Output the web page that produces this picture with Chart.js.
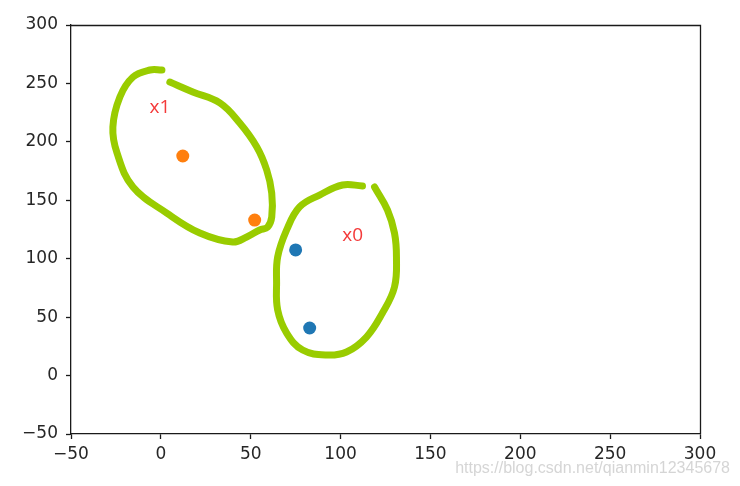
<!DOCTYPE html>
<html>
<head>
<meta charset="utf-8">
<script src="https://cdn.jsdelivr.net/npm/chart.js@4/dist/chart.umd.min.js"></script>
<style>
  body { margin: 0; background: #fff; }
  #wrap { width: 740px; height: 486px; }
</style>
</head>
<body>
<div id="wrap"><canvas id="scatterChart" width="740" height="486"></canvas></div>
<script>
// tick values for both axes
const tickValues = [-50, 0, 50, 100, 150, 200, 250, 300];

// cluster points
const x0Points = [{ x: 75, y: 107.5 }, { x: 82.8, y: 40.7 }];
const x1Points = [{ x: 12.2, y: 187.9 }, { x: 52.2, y: 133.1 }];

// hand drawn loops
const loopX1 = [
  { x: 0.6, y: 261.5 }, { x: -6.1, y: 261.5 }, { x: -15.5, y: 255.5 }, { x: -22.8, y: 238.4 },
  { x: -26.7, y: 212.7 }, { x: -24.4, y: 190.5 }, { x: -15.5, y: 161.4 }, { x: 3.3, y: 139.1 },
  { x: 21.7, y: 122 }, { x: 40, y: 114.3 }, { x: 47.8, y: 118.6 }, { x: 55, y: 124.6 },
  { x: 59.4, y: 127.1 }, { x: 61.7, y: 135.7 }, { x: 61.7, y: 156.2 }, { x: 58.9, y: 175.9 },
  { x: 53.4, y: 195.6 }, { x: 43.9, y: 216.1 }, { x: 32.8, y: 233.3 }, { x: 17.8, y: 242.7 },
  { x: 5, y: 251.2 }
];
const loopX0 = [
  { x: 112.2, y: 162.2 }, { x: 101.1, y: 163.1 }, { x: 88.3, y: 154.5 }, { x: 77.2, y: 144.3 },
  { x: 70, y: 124.6 }, { x: 65, y: 101.5 }, { x: 64.4, y: 79.2 }, { x: 65, y: 56.1 },
  { x: 70, y: 36.4 }, { x: 78.9, y: 21.9 }, { x: 92.2, y: 17.6 }, { x: 103.3, y: 20.2 },
  { x: 114.4, y: 33 }, { x: 123.3, y: 53.6 }, { x: 130, y: 75.8 }, { x: 131.1, y: 101.5 },
  { x: 130, y: 122 }, { x: 126.1, y: 141.7 }, { x: 118.9, y: 161.4 }
];

// cluster labels
const clusterLabels = [
  { text: 'x1', x: -0.5, y: 229 },
  { text: 'x0', x: 106.7, y: 119.5 }
];
const watermark = 'https://blog.csdn.net/qianmin12345678';

const fontFamily = '"DejaVu Sans", sans-serif';

// draws the top/right frame, the red labels and the watermark
const extrasPlugin = {
  id: 'extras',
  afterDatasetsDraw(chart) {
    const { ctx, chartArea, scales } = chart;
    ctx.save();
    ctx.strokeStyle = '#1a1a1a';
    ctx.lineWidth = 1.3;
    ctx.beginPath();
    ctx.moveTo(chartArea.left, chartArea.top + 0.5);
    ctx.lineTo(chartArea.right + 0.5, chartArea.top + 0.5);
    ctx.lineTo(chartArea.right + 0.5, chartArea.bottom);
    ctx.stroke();

    ctx.fillStyle = '#f43a3a';
    ctx.font = '19px "Open Sans", sans-serif';
    ctx.textAlign = 'center';
    ctx.textBaseline = 'middle';
    clusterLabels.forEach(l => {
      ctx.fillText(l.text, scales.x.getPixelForValue(l.x), scales.y.getPixelForValue(l.y));
    });
    ctx.restore();
  },
  afterDraw(chart) {
    const ctx = chart.ctx;
    ctx.save();
    ctx.fillStyle = 'rgba(195,195,195,0.7)';
    ctx.font = '16px "Liberation Sans", Arial, sans-serif';
    ctx.textAlign = 'right';
    ctx.textBaseline = 'alphabetic';
    ctx.fillText(watermark, 730, 473);
    ctx.restore();
  }
};

const axisTicks = {
  color: '#262626',
  font: { family: fontFamily, size: 17 },
  stepSize: 50,
  callback: v => String(v).replace('-', '\u2212')
};

new Chart(document.getElementById('scatterChart').getContext('2d'), {
  type: 'scatter',
  data: {
    datasets: [
      {
        data: loopX1, showLine: true, borderColor: '#99cc00', borderWidth: 7,
        borderCapStyle: 'round', borderJoinStyle: 'round', tension: 0.4, pointRadius: 0
      },
      {
        data: loopX0, showLine: true, borderColor: '#99cc00', borderWidth: 7,
        borderCapStyle: 'round', borderJoinStyle: 'round', tension: 0.4, pointRadius: 0
      },
      { data: x0Points, backgroundColor: '#1f77b4', borderWidth: 0, pointRadius: 6.5 },
      { data: x1Points, backgroundColor: '#ff7f0e', borderWidth: 0, pointRadius: 6.5 }
    ]
  },
  options: {
    responsive: false,
    animation: false,
    layout: { padding: { top: 25, right: 40, left: 0, bottom: 0 } },
    plugins: { legend: { display: false }, tooltip: { enabled: false } },
    scales: {
      x: {
        type: 'linear',
        min: tickValues[0],
        max: tickValues[tickValues.length - 1],
        afterBuildTicks: s => { s.ticks = tickValues.map(v => ({ value: v })); },
        afterFit: s => { s.height = 52; },
        grid: { display: true, drawOnChartArea: false, drawTicks: true, tickLength: 5, tickColor: '#1a1a1a', tickWidth: 1.3 },
        border: { display: true, color: '#1a1a1a', width: 1.3 },
        ticks: Object.assign({ padding: 5, maxRotation: 0 }, axisTicks)
      },
      y: {
        type: 'linear',
        min: tickValues[0],
        max: tickValues[tickValues.length - 1],
        afterBuildTicks: s => { s.ticks = tickValues.map(v => ({ value: v })); },
        afterFit: s => { s.width = 71; },
        grid: { display: true, drawOnChartArea: false, drawTicks: true, tickLength: 5, tickColor: '#1a1a1a', tickWidth: 1.3 },
        border: { display: true, color: '#1a1a1a', width: 1.3 },
        ticks: Object.assign({ padding: 8 }, axisTicks)
      }
    }
  },
  plugins: [extrasPlugin]
});
</script>
</body>
</html>
